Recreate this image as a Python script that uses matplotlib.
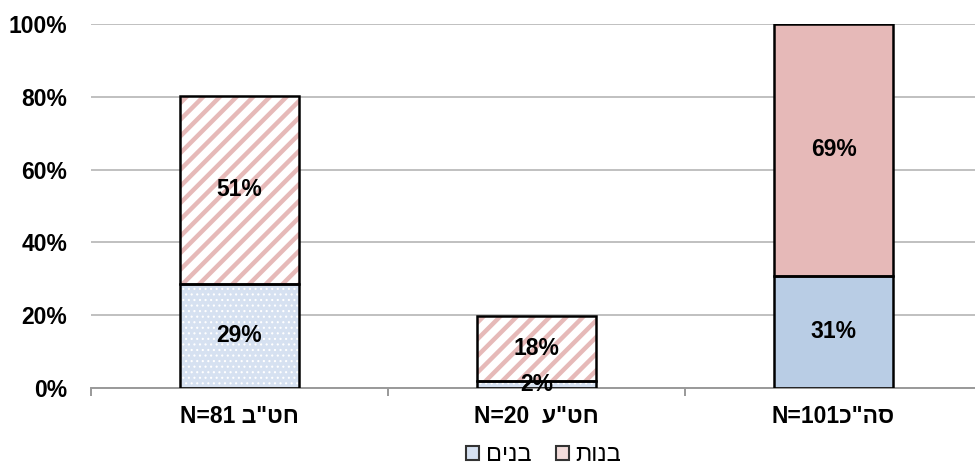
import matplotlib
matplotlib.use('Agg')
import matplotlib.pyplot as plt
import numpy as np
from matplotlib.patches import Patch

plt.rcParams['font.family'] = ['Liberation Sans', 'DejaVu Sans']

# categories in logical (reading) order: hebrew name, N, gap before name
cat_names = ['חט"ב', 'חט"ע', 'סה"כ']
cat_n = [81, 20, 101]
cat_gap = [' ', '  ', '']

boys = [28.7, 1.9, 30.8]
girls = [51.4, 17.9, 69.2]

legend_labels = ['בנים', 'בנות']

# bar styles: (face, hatch, hatch colour)
boys_style = [('#d6e1f1', '...', 'white'), ('#d6e1f1', '...', 'white'), ('#b9cde5', '', '#b9cde5')]
girls_style = [('white', '//', '#e6b9b8'), ('white', '//', '#e6b9b8'), ('#e6b9b8', '', '#e6b9b8')]


def visual(heb, n, gap):
    # matplotlib has no bidi support, so lay the RTL label out in visual order
    return f'N={n}{gap}{heb[::-1]}'


def hatched_bar(ax, x, h, bottom, style, width):
    face, hatch, hcol = style
    lw = 3.2 if '/' in hatch else 0.8
    with plt.rc_context({'hatch.linewidth': lw}):
        b = ax.bar(x, h, width, bottom=bottom, color=face, edgecolor=hcol,
                   hatch=hatch, linewidth=0, zorder=2)
    for p in b:
        if hasattr(p, 'set_hatch_linewidth'):
            p.set_hatch_linewidth(lw)
    ax.bar(x, h, width, bottom=bottom, fill=False, edgecolor='black',
           linewidth=1.8, zorder=3)
    return b


fig = plt.figure(figsize=(9.75, 4.68), dpi=100, facecolor='white')
ax = fig.add_axes([91 / 975, 80 / 468, 891 / 975, 364 / 468])

x = np.arange(len(cat_names))
width = 0.4
for i in range(len(x)):
    hatched_bar(ax, x[i], boys[i], 0, boys_style[i], width)
    hatched_bar(ax, x[i], girls[i], boys[i], girls_style[i], width)
    ax.text(x[i], boys[i] / 2, f'{boys[i]:.0f}%', ha='center', va='center',
            fontsize=16.5, fontweight='bold', zorder=4)
    ax.text(x[i], boys[i] + girls[i] / 2, f'{girls[i]:.0f}%', ha='center', va='center',
            fontsize=16.5, fontweight='bold', zorder=4)

ax.set_xlim(-0.5, 2.5)
ax.set_ylim(0, 100)
ax.set_yticks(np.arange(0, 101, 20))
ax.set_yticklabels([f'{v}%' for v in range(0, 101, 20)], fontsize=16.5, fontweight='bold')
ax.tick_params(axis='y', length=0, pad=17)
ax.grid(True, axis='y', color='#c0c0c0', linewidth=1.4, zorder=0)
ax.set_axisbelow(True)

ax.set_xticks(x)
ax.set_xticklabels([visual(h, n, g) for h, n, g in zip(cat_names, cat_n, cat_gap)],
                   fontsize=16.5, fontweight='bold')
ax.tick_params(axis='x', length=0, pad=12)
ax.set_xticks(np.arange(-0.5, 3, 1), minor=True)
ax.tick_params(axis='x', which='minor', length=6, width=1.4, color='#999999')

for s in ['top', 'right', 'left']:
    ax.spines[s].set_visible(False)
ax.spines['bottom'].set_color('#999999')
ax.spines['bottom'].set_linewidth(1.4)

handles = [Patch(facecolor='#d6e1f1', edgecolor='#333333', linewidth=1.5),
           Patch(facecolor='#f2dcdb', edgecolor='#333333', linewidth=1.5)]
fig.legend(handles, [l[::-1] for l in legend_labels], loc='center',
           bbox_to_anchor=(544 / 975, 13 / 468), ncol=2, frameon=False,
           fontsize=17, handlelength=0.55, handleheight=0.55, handletextpad=0.3,
           columnspacing=1.0, borderpad=0.1)

fig.savefig('out.png', dpi=100, facecolor='white')
